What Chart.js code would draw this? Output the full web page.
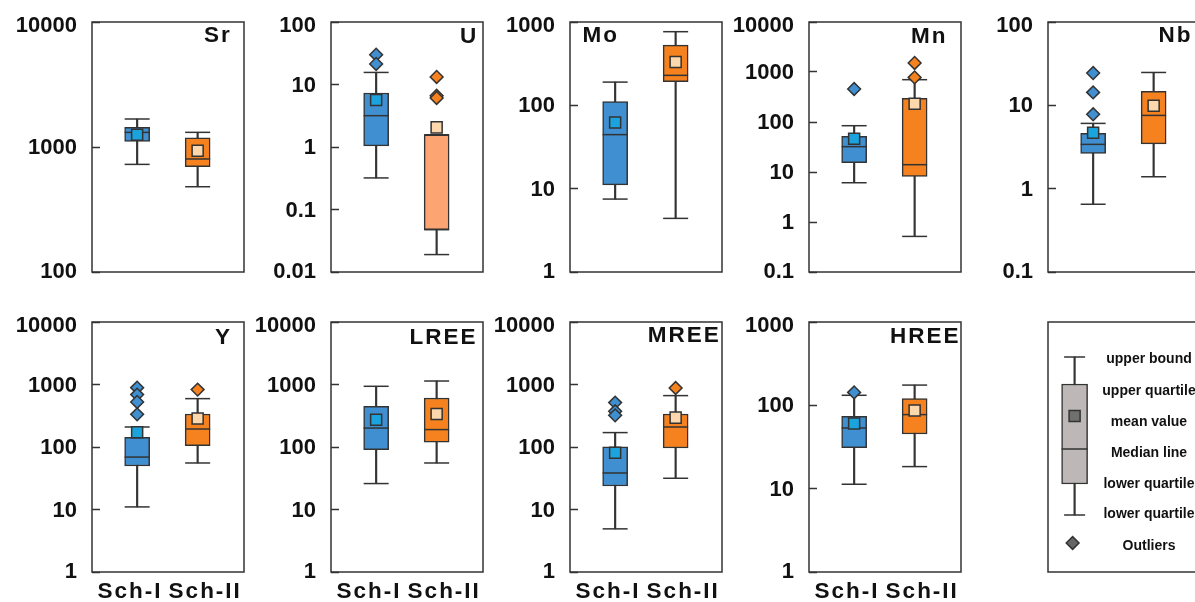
<!DOCTYPE html>
<html><head><meta charset="utf-8">
<script src="https://cdn.jsdelivr.net/npm/chart.js@4.4.1/dist/chart.umd.min.js"></script>
<style>
html,body{margin:0;padding:0;width:1195px;height:602px;overflow:hidden;background:#fff;}
.panel{position:absolute;}
.title{position:absolute;font-family:'Liberation Sans',Arial,sans-serif;font-weight:bold;font-size:22.5px;letter-spacing:2px;line-height:1;color:#111;white-space:nowrap;}
.lg{position:absolute;font-family:'Liberation Sans',Arial,sans-serif;font-weight:bold;font-size:14px;line-height:16px;height:16px;color:#111;white-space:nowrap;transform:translateX(-50%);}
</style></head><body>
<script>
// ---------- data ----------
const elements = ['Sr', 'U', 'Mo', 'Mn', 'Nb', 'Y', 'LREE', 'MREE', 'HREE'];
const groups = ['Sch-I', 'Sch-II'];
const axisTicks = [
  [100, 1000, 10000],
  [0.01, 0.1, 1, 10, 100],
  [1, 10, 100, 1000],
  [0.1, 1, 10, 100, 1000, 10000],
  [0.1, 1, 10, 100],
  [1, 10, 100, 1000, 10000],
  [1, 10, 100, 1000, 10000],
  [1, 10, 100, 1000, 10000],
  [1, 10, 100, 1000]
];
// Sch-I
const lowerI   = [726, 0.32, 7.5, 6.1, 0.65, 11, 26, 4.9, 11.3];
const q1I      = [1109, 1.04, 11.1, 15.3, 2.65, 49.7, 91, 23.8, 31.1];
const medianI  = [1309, 3.17, 44.5, 32.1, 3.4, 69, 201, 38.4, 53.5];
const q3I      = [1435, 7.3, 111, 51.5, 4.6, 143, 448, 101, 73.8];
const upperI   = [1675, 15.6, 190, 84.3, 6.07, 209, 936, 170, 132];
const meanI    = [1254, 5.65, 62.4, 46.3, 4.7, 172, 274, 81, 60.4];
const outliersI = [[], [30, 21.3], [], [457], [24.4, 14.3, 7.8], [891, 689, 525, 333], [], [513, 373, 321], [143]];
// Sch-II
const lowerII  = [481, 0.019, 4.4, 0.515, 1.39, 55.5, 55.5, 31.6, 18.4];
const q1II     = [696, 0.0475, 192, 8.2, 3.44, 105, 120, 96.4, 45.3];
const medianII = [802, 0.0475, 229, 14, 7.57, 194, 190, 209, 77.4];
const q3II     = [1186, 1.57, 529, 296, 14.7, 337, 608, 337, 120.5];
const upperII  = [1310, 1.57, 765, 702, 24.8, 594, 1137, 664, 175];
const meanII   = [933, 2.06, 331, 232, 9.9, 285, 337, 295, 86.5];
const outliersII = [[], [13.2, 6.6, 6.1], [], [1514, 780], [], [828], [], [879], []];

// legend illustration (arbitrary units, 0-250)
const legendLabels = ['upper bound', 'upper quartile', 'mean value', 'Median line', 'lower quartile', 'lower quartile', 'Outliers'];
const legendBox = [57, 88, 123, 188, 215]; // lower, q1, median, q3, upper
const legendMean = [156];
const legendOutlier = [29];

// ---------- layout & style ----------
const BLUE = '#3f8fd1', CYAN = '#1aa3dc', ORANGE = '#f5821f', SALMON = '#fca472', PEACH = '#fdd8ac';
const LINE = '#333';
const FONT = "'Liberation Sans', Arial, sans-serif";
const AXIS_W = 90, PLOT_W = 152, PLOT_H = 250, TOP_PAD = 20, RIGHT_PAD = 6;
const X_POS = [0.297, 0.695];
const X_LABEL_POS = [0.25, 0.745];
const plotLeft = [92, 331, 570, 809, 1048, 92, 331, 570, 809];
const plotTop  = [22, 22, 22, 22, 22, 322, 322, 322, 322];
const titleLeft = [204, 460, 582.5, 911, 1158.5, 215, 409.5, 647.7, 890];
const titleTop  = [24, 25, 24, 25, 24, 325.5, 325.5, 324, 324.5];

const framePlugin = {
  id: 'frame',
  afterDraw(chart) {
    const {ctx, chartArea: a} = chart;
    ctx.save();
    ctx.strokeStyle = LINE; ctx.lineWidth = 1.5;
    ctx.strokeRect(a.left, a.top, a.right - a.left, a.bottom - a.top);
    ctx.restore();
  }
};
const tweakPlugin = {
  id: 'labelTweaks',
  afterLayout(chart) {
    const s = chart.scales.x;
    if (s && !s._spaced) {
      s._spaced = true;
      const orig = s.drawLabels;
      s.drawLabels = function (area) {
        const c = this.ctx; const prev = c.letterSpacing;
        c.letterSpacing = '2px';
        orig.call(this, area);
        c.letterSpacing = prev || '0px';
      };
    }
    const y = chart.scales.y;
    if (y && !y._nudged) {
      y._nudged = true;
      const origItems = y._computeLabelItems;
      y._computeLabelItems = function (area) {
        const items = origItems.call(this, area);
        if (items.length) {
          items[items.length - 1].options.translation[1] += 3;
          items[0].options.translation[1] -= 1.5;
        }
        return items;
      };
      y._labelItems = null;
    }
  }
};
function noPad(sc) { sc.paddingTop = 0; sc.paddingBottom = 0; sc.paddingLeft = 0; sc.paddingRight = 0; }

function makeCanvas(left, top, W, H) {
  const div = document.createElement('div');
  div.className = 'panel';
  div.style.left = left + 'px'; div.style.top = top + 'px';
  div.style.width = W + 'px'; div.style.height = H + 'px';
  const cv = document.createElement('canvas');
  cv.width = W; cv.height = H; cv.style.width = W + 'px'; cv.style.height = H + 'px';
  div.appendChild(cv); document.body.appendChild(div);
  return cv;
}

function makePanel(k) {
  const row2 = k >= 5;
  const xH = row2 ? 34 : 0;
  const botPad = row2 ? 0 : 20;
  const W = AXIS_W + PLOT_W + RIGHT_PAD, H = TOP_PAD + PLOT_H + xH + botPad;
  const cv = makeCanvas(plotLeft[k] - AXIS_W, plotTop[k] - TOP_PAD, W, H);

  const lower = [lowerI[k], lowerII[k]], q1 = [q1I[k], q1II[k]], med = [medianI[k], medianII[k]];
  const q3 = [q3I[k], q3II[k]], upper = [upperI[k], upperII[k]], mean = [meanI[k], meanII[k]];
  const outs = [outliersI[k], outliersII[k]];
  const boxFill = [BLUE, elements[k] === 'U' ? SALMON : ORANGE];
  const meanFill = [CYAN, PEACH];
  const outFill = [BLUE, ORANGE];

  const outData = [], outColors = [];
  outs.forEach((arr, g) => arr.forEach(v => { outData.push({x: X_POS[g], y: v}); outColors.push(outFill[g]); }));
  const caps = [];
  [0, 1].forEach(g => { caps.push({x: X_POS[g], y: lower[g]}); caps.push({x: X_POS[g], y: upper[g]}); });
  const ticksArr = axisTicks[k];

  new Chart(cv, {
    type: 'bar',
    data: {
      datasets: [
        {type: 'scatter', order: 1, data: [0, 1].map(g => ({x: X_POS[g], y: mean[g]})),
         pointStyle: 'rect', pointRadius: 7.8, pointBackgroundColor: meanFill, pointBorderColor: LINE, pointBorderWidth: 1.5},
        {type: 'scatter', order: 2, data: [0, 1].map(g => ({x: X_POS[g], y: med[g]})),
         pointStyle: 'line', pointRadius: 12.5, pointBorderColor: LINE, pointBorderWidth: 1.5},
        {type: 'scatter', order: 3, data: outData,
         pointStyle: 'rectRot', pointRadius: 6.4, pointBackgroundColor: outColors, pointBorderColor: LINE, pointBorderWidth: 1.5},
        {type: 'scatter', order: 4, data: caps,
         pointStyle: 'line', pointRadius: 12.5, pointBorderColor: LINE, pointBorderWidth: 1.5},
        {type: 'bar', order: 5, data: [0, 1].map(g => ({x: X_POS[g], y: [q1[g], q3[g]]})),
         backgroundColor: boxFill, borderColor: LINE, borderWidth: 1.5, borderSkipped: false, barThickness: 25, grouped: false},
        {type: 'bar', order: 6, data: [0, 1].map(g => ({x: X_POS[g], y: [lower[g], upper[g]]})),
         backgroundColor: LINE, borderWidth: 0, barThickness: 1.5, grouped: false}
      ]
    },
    options: {
      responsive: false, animation: false, devicePixelRatio: 1, events: [],
      layout: {autoPadding: false, padding: {top: TOP_PAD, right: RIGHT_PAD, bottom: botPad, left: 0}},
      plugins: {legend: {display: false}, tooltip: {enabled: false}},
      scales: {
        x: {
          type: 'linear', min: 0, max: 1, display: row2, offset: false,
          afterBuildTicks: sc => { sc.ticks = X_LABEL_POS.map(v => ({value: v})); },
          afterFit: sc => { sc.height = xH; noPad(sc); },
          ticks: {callback: (v, i) => groups[i], font: {family: FONT, size: 22.5, weight: 'bold'}, color: '#111',
                  padding: 6, autoSkip: false, maxRotation: 0},
          grid: {display: false, drawTicks: false, offset: false},
          border: {display: false}
        },
        y: {
          type: 'logarithmic', min: ticksArr[0], max: ticksArr[ticksArr.length - 1],
          afterBuildTicks: sc => { sc.ticks = ticksArr.map(v => ({value: v})); },
          afterFit: sc => { sc.width = AXIS_W; noPad(sc); },
          ticks: {callback: v => String(v), font: {family: FONT, size: 22, weight: 'bold'}, color: '#111',
                  padding: 23, labelOffset: 1, autoSkip: false, maxRotation: 0},
          grid: {display: true, drawOnChartArea: false, drawTicks: true, tickLength: -8, tickWidth: 1.5, tickColor: LINE},
          border: {display: false}
        }
      }
    },
    plugins: [framePlugin, tweakPlugin]
  });

  const t = document.createElement('div');
  t.className = 'title';
  t.textContent = elements[k];
  t.style.left = titleLeft[k] + 'px'; t.style.top = titleTop[k] + 'px';
  document.body.appendChild(t);
}

for (let k = 0; k < elements.length; k++) makePanel(k);

// ---------- legend panel ----------
(function () {
  const LX = 0.175, LOX = 0.162;
  const cv = makeCanvas(1046, 320, 156, 254);
  new Chart(cv, {
    type: 'bar',
    data: {
      datasets: [
        {type: 'scatter', order: 1, data: legendMean.map(v => ({x: LX, y: v})),
         pointStyle: 'rect', pointRadius: 7.8, pointBackgroundColor: '#707070', pointBorderColor: LINE, pointBorderWidth: 1.5},
        {type: 'scatter', order: 2, data: [{x: LX, y: legendBox[2]}],
         pointStyle: 'line', pointRadius: 13, pointBorderColor: LINE, pointBorderWidth: 1.5},
        {type: 'scatter', order: 3, data: legendOutlier.map(v => ({x: LOX, y: v})),
         pointStyle: 'rectRot', pointRadius: 6.4, pointBackgroundColor: '#666', pointBorderColor: LINE, pointBorderWidth: 1.5},
        {type: 'scatter', order: 4, data: [{x: LX, y: legendBox[0]}, {x: LX, y: legendBox[4]}],
         pointStyle: 'line', pointRadius: 10.5, pointBorderColor: LINE, pointBorderWidth: 1.5},
        {type: 'bar', order: 5, data: [{x: LX, y: [legendBox[1], legendBox[3]]}],
         backgroundColor: '#bdb8b7', borderColor: LINE, borderWidth: 1.5, borderSkipped: false, barThickness: 26, grouped: false},
        {type: 'bar', order: 6, data: [{x: LX, y: [legendBox[0], legendBox[4]]}],
         backgroundColor: LINE, borderWidth: 0, barThickness: 1.5, grouped: false}
      ]
    },
    options: {
      responsive: false, animation: false, devicePixelRatio: 1, events: [],
      layout: {autoPadding: false, padding: 2},
      plugins: {legend: {display: false}, tooltip: {enabled: false}},
      scales: {
        x: {type: 'linear', min: 0, max: 1, display: false, offset: false},
        y: {type: 'linear', min: 0, max: 250, display: false}
      }
    },
    plugins: [framePlugin]
  });
  const ys = [358.3, 390, 420.7, 451.7, 482.7, 513.3, 545];
  legendLabels.forEach((txt, i) => {
    const d = document.createElement('div');
    d.className = 'lg';
    d.textContent = txt;
    d.style.left = '1149px';
    d.style.top = (ys[i] - 8) + 'px';
    document.body.appendChild(d);
  });
})();
</script>
</body></html>
